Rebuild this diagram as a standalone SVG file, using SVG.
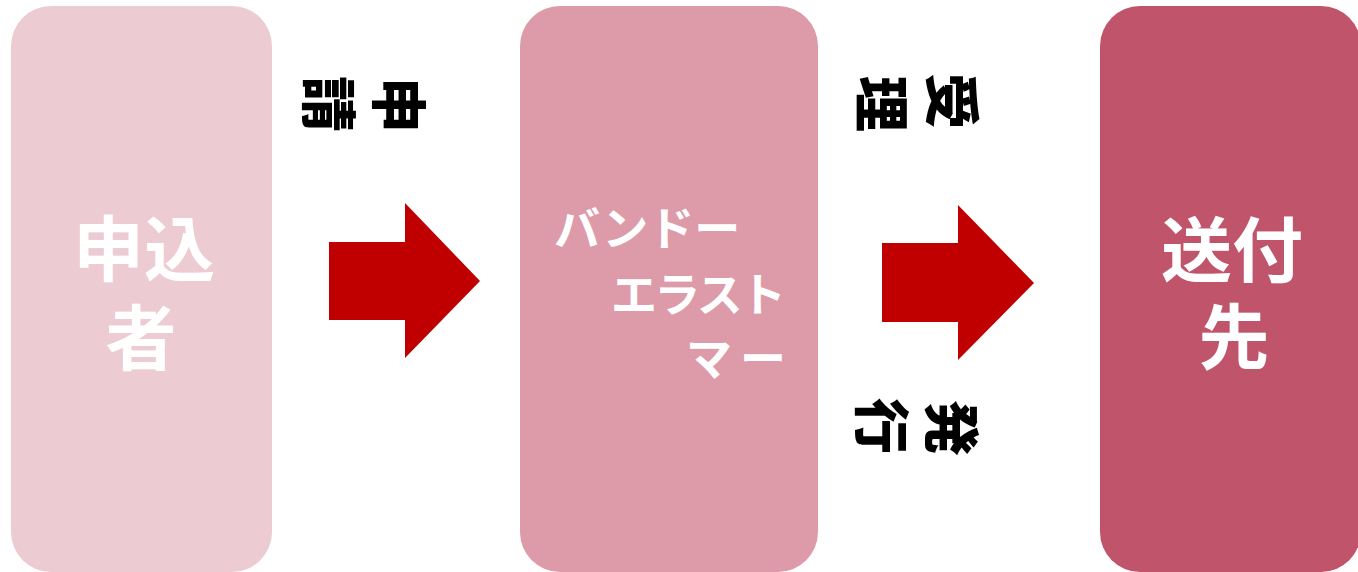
<svg xmlns="http://www.w3.org/2000/svg" width="1358" height="572" viewBox="0 0 1358 572">
<style>
.big{font-family:"Noto Sans CJK JP","Noto Sans",sans-serif;font-weight:700;font-size:71px;fill:#ffffff;text-anchor:middle}
.kana{font-family:"Noto Sans CJK JP","Noto Sans",sans-serif;font-weight:700;font-size:46px;fill:#ffffff}
.lbl{font-family:"Noto Sans CJK JP","Noto Sans",sans-serif;font-weight:900;font-size:56px;fill:#000000;text-anchor:middle;dominant-baseline:central}
.arrow{fill:#C00000}
</style>
<rect width="1358" height="572" fill="#ffffff"/>
<g id="node-applicant">
<rect x="11" y="6" width="261" height="566" rx="40" ry="40" fill="#EDCBD3"/>
<text class="big" x="144" y="275">申込</text>
<text class="big" x="141" y="364">者</text>
</g>
<g id="node-vendor">
<rect x="520" y="6" width="298" height="566" rx="40" ry="40" fill="#DD9BAA"/>
<text class="kana" x="554" y="245">バンドー</text>
<text class="kana" x="611" y="311" textLength="175" lengthAdjust="spacing">エラスト</text>
<text class="kana" x="686" y="375" textLength="100" lengthAdjust="spacing">マー</text>
</g>
<g id="node-recipient">
<rect x="1100" y="6" width="261" height="566" rx="40" ry="40" fill="#C0546B"/>
<text class="big" x="1232" y="276">送付</text>
<text class="big" x="1234" y="363">先</text>
</g>
<g id="connectors">
<polygon class="arrow" points="329,242 405,242 405,203 480,281 405,358 405,320 329,320"/>
<polygon class="arrow" points="882,243 958,243 958,205 1034,283 958,360 958,322 882,322"/>
<text class="lbl" transform="translate(402,105) rotate(90)">申</text>
<text class="lbl" transform="translate(332,104) rotate(90)">請</text>
<text class="lbl" transform="translate(955,101) rotate(90)">受</text>
<text class="lbl" transform="translate(885,104) rotate(90)">理</text>
<text class="lbl" transform="translate(955,428) rotate(90)">発</text>
<text class="lbl" transform="translate(885,426) rotate(90)">行</text>
</g>
</svg>
